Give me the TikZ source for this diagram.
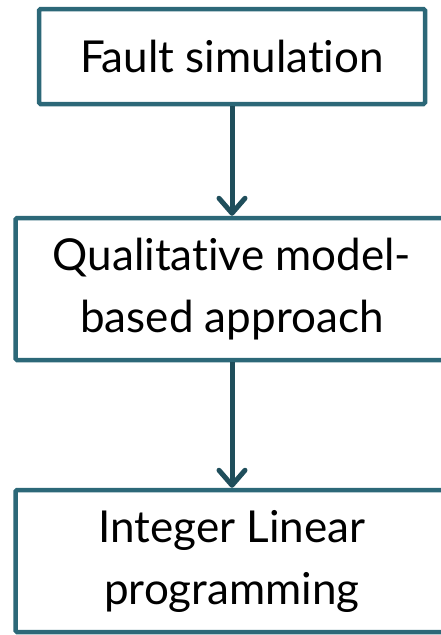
\documentclass[tikz,border=0pt]{standalone}
\usepackage{fontspec}
\setmainfont{Lato}[Ligatures=NoCommon]
\usetikzlibrary{arrows.meta}

\definecolor{fm-BorderColor}{HTML}{2C6878}
\definecolor{fm-ArrowColor}{HTML}{1F4E5B}
\tikzstyle{fm-method-base}=[rectangle,
                            draw=fm-BorderColor,
                            line width=4.5pt,
                            rounded corners=1.5pt,
                            text centered,
                            fill=white,
                            font=\fontsize{44}{62}\selectfont,
                           ]
\tikzstyle{fm-small}=[fm-method-base,
                      minimum width=386pt,
                      minimum height=95pt]
\tikzstyle{fm-wide}=[fm-method-base,
                     minimum width=433pt,
                     minimum height=142pt]
\tikzstyle{fm-arrow}=[-{Straight Barb[length=15pt,width=26pt,round]},
                      draw=fm-ArrowColor,
                      line width=5pt]

\begin{document}
\begin{tikzpicture}[x=1pt, y=1pt, align=center]
    \useasboundingbox (0,0) rectangle (440,-635);
    % Methods
    % --------------------------------------------------------------------------
    \node at (232,  -56.5) (fault_sim)   [fm-small] {Fault simulation};
    \node at (232, -289)   (qual_model)  [fm-wide]  {Qualitative model-\\based approach};
    \node at (232, -561)   (ilp)         [fm-wide]  {Integer Linear\\programming};

    % Arrows
    % --------------------------------------------------------------------------
    \draw[fm-arrow] (fault_sim)  -- (qual_model);
    \draw[fm-arrow] (qual_model) -- (ilp);
\end{tikzpicture}
\end{document}
